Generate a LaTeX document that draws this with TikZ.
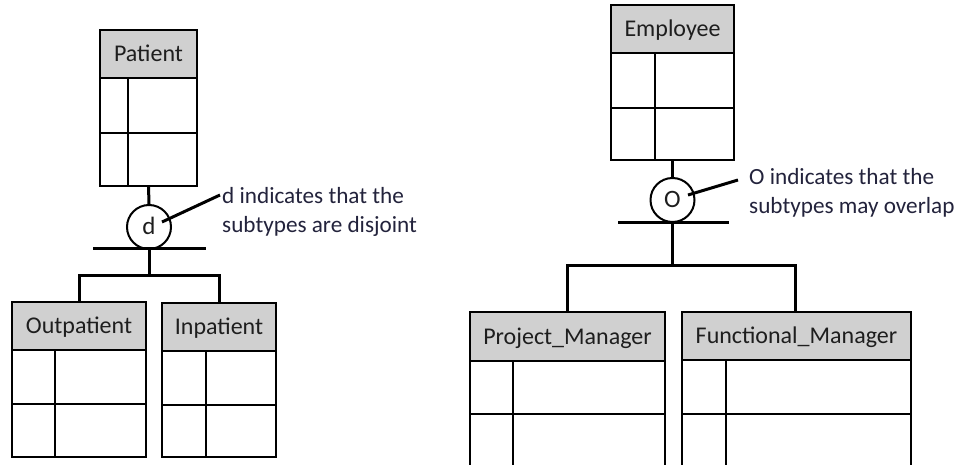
\documentclass[tikz,border=0pt]{standalone}
\usepackage{fontspec}
\setmainfont{Carlito}
\definecolor{hdrgray}{RGB}{208,208,208}
\definecolor{txtcol}{RGB}{30,30,30}
\definecolor{notecol}{RGB}{35,35,60}
\tikzset{
  hdr/.style={draw=black, line width=1.3pt, fill=hdrgray, inner sep=0pt, outer sep=0pt,
    font=\fontsize{24}{28}\selectfont, text=txtcol, text height=15.5pt, text depth=0pt},
  bodybox/.style={draw=black, line width=1.3pt, inner sep=0pt, outer sep=0pt},
  cell/.style={line width=1.3pt},
  conn/.style={line width=3pt},
  bar/.style={line width=3pt},
  dcircle/.style={draw=black, line width=2pt, circle, minimum size=44pt, inner sep=0pt,
    font=\fontsize{25}{28}\selectfont, text=txtcol, text height=16pt, text depth=0pt},
  notetext/.style={font=\fontsize{23.2}{29}\selectfont, text=notecol, align=left, inner sep=0pt, anchor=west},
  noteline/.style={line width=3pt}
}
\newcommand\entitybox[9]{%
  \node[hdr, minimum width={(#3-#2)*1pt}, minimum height={(#5-#4)*1pt}] (#1) at ({(#2+#3)/2},{(#4+#5)/2}) {#9};
  \node[bodybox, minimum width={(#3-#2)*1pt}, minimum height={(#7-#5)*1pt}] (#1-b) at ({(#2+#3)/2},{(#5+#7)/2}) {};
  \draw[cell] (#2,#6) -- (#3,#6) (#8,#5) -- (#8,#7);
}
\begin{document}
\begin{tikzpicture}[x=1pt,y=-1pt]
\useasboundingbox[fill=white] (0,0) rectangle (959,465);
\begin{scope}
\clip (0,0) rectangle (959,465);
% left hierarchy
\entitybox{patient}{100}{197}{30}{78}{133}{186}{128}{Patient}
\entitybox{outpatient}{12}{146}{302}{350}{404}{457}{55}{Outpatient}
\entitybox{inpatient}{162}{276}{303}{351}{405}{457}{206}{Inpatient}
\node[dcircle] (dcirc) at (149,227) {d};
\coordinate (dbarl) at (93,249);
\coordinate (dbarr) at (206,249);
\coordinate (dbarc) at (149,249);
\coordinate (djoin) at (149,276);
\draw[conn] (patient-b.south) -- (dcirc.north);
\draw[bar] (dbarl) -- (dbarr);
\draw[conn] (dbarc) -- (djoin);
\draw[conn] (outpatient.north) -- (outpatient.north |- djoin) -- (inpatient.north |- djoin) -- (inpatient.north);
\node[notetext] (dnote) at (222,212) {d indicates that the\\subtypes are disjoint};
\coordinate (dtip) at (162,222);
\coordinate (dend) at (220,195);
\draw[noteline] (dtip) -- (dend);
% right hierarchy
\entitybox{employee}{611}{734}{5}{53}{108}{160}{655}{Employee}
\entitybox{pm}{470}{665}{312}{361}{414}{480}{513}{Project\_Manager}
\entitybox{fm}{682}{911}{312}{360}{414}{480}{726}{Functional\_Manager}
\node[dcircle] (ocirc) at (672.5,200) {O};
\coordinate (obarl) at (618,223);
\coordinate (obarr) at (729,223);
\coordinate (obarc) at (672.5,223);
\coordinate (ojoin) at (672.5,266);
\draw[conn] (employee-b.south) -- (ocirc.north);
\draw[bar] (obarl) -- (obarr);
\draw[conn] (obarc) -- (ojoin);
\coordinate (pmtop) at (567,312);
\coordinate (fmtop) at (795,312);
\draw[conn] (pmtop) -- (pmtop |- ojoin) -- (fmtop |- ojoin) -- (fmtop);
\node[notetext] (onote) at (749,193) {O indicates that the\\subtypes may overlap};
\coordinate (otip) at (688,195);
\coordinate (oend) at (738,180);
\draw[noteline] (otip) -- (oend);
\end{scope}
\end{tikzpicture}
\end{document}
